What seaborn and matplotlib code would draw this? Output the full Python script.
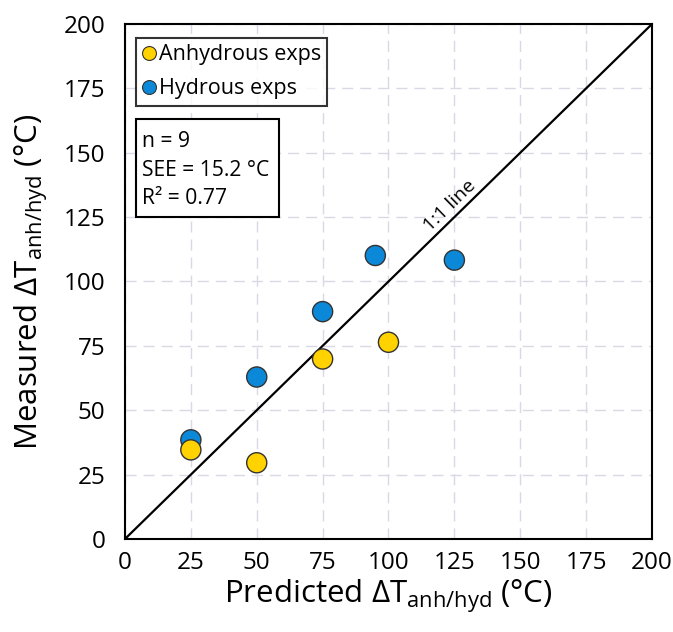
import matplotlib
matplotlib.use("Agg")
import matplotlib.pyplot as plt
import seaborn as sns
import pandas as pd
from matplotlib.lines import Line2D
from matplotlib.patches import Rectangle

# Data
anhydrous_pred = [25, 50, 75, 100]
anhydrous_meas = [34.6, 29.6, 69.9, 76.4]
hydrous_pred = [25, 50, 75, 95, 125]
hydrous_meas = [38.5, 62.9, 88.3, 110.1, 108.3]
ticks = [0, 25, 50, 75, 100, 125, 150, 175, 200]
stats_text = "n = 9\nSEE = 15.2 °C\nR² = 0.77"

sns.set_theme(style="white")
plt.rcParams['font.family'] = ['Open Sans', 'DejaVu Sans']
plt.rcParams['mathtext.default'] = 'regular'
plt.rcParams['text.color'] = 'black'
plt.rcParams['axes.labelcolor'] = 'black'

df = pd.DataFrame({
    "pred": hydrous_pred + anhydrous_pred,
    "meas": hydrous_meas + anhydrous_meas,
    "type": ["Hydrous exps"] * len(hydrous_pred) + ["Anhydrous exps"] * len(anhydrous_pred),
})

c_anh = "#FFD200"
c_hyd = "#0B89D8"

fig = plt.figure(figsize=(6.73, 6.32), dpi=100)
ax = fig.add_axes([0.1857, 0.1472, 0.7831, 0.8148])

ax.set_xlim(0, 200)
ax.set_ylim(0, 200)
ax.set_xticks(ticks)
ax.set_yticks(ticks)
ax.grid(True, color="#D9D9E6", linestyle=(0, (8, 5)), linewidth=1.0)
ax.set_axisbelow(True)

ax.plot([0, 200], [0, 200], color="black", linewidth=1.6, zorder=2)
ax.text(125.5, 127.0, "1:1 line", rotation=44.3, ha="center", va="bottom",
        fontsize=14, rotation_mode="anchor", color="black")

sns.scatterplot(data=df, x="pred", y="meas", hue="type",
                palette={"Hydrous exps": c_hyd, "Anhydrous exps": c_anh},
                s=210, edgecolor="#333333", linewidth=1.0, ax=ax, zorder=3, legend=False)

for sp in ax.spines.values():
    sp.set_color("black")
    sp.set_linewidth(1.5)

ax.tick_params(axis="both", labelsize=17.5, length=0, colors="black")
ax.tick_params(axis="x", pad=9)
ax.tick_params(axis="y", pad=14)
ax.set_xlabel(r"Predicted $\Delta T_{anh/hyd}$ (°C)", fontsize=22.5, labelpad=2)
ax.set_ylabel(r"Measured $\Delta T_{anh/hyd}$ (°C)", fontsize=22.5, labelpad=10)

handles = [
    Line2D([], [], marker="o", linestyle="", markersize=10, markerfacecolor=c_anh,
           markeredgecolor="#333333", markeredgewidth=0.8, label="Anhydrous exps"),
    Line2D([], [], marker="o", linestyle="", markersize=10, markerfacecolor=c_hyd,
           markeredgecolor="#333333", markeredgewidth=0.8, label="Hydrous exps"),
]
leg = ax.legend(handles=handles, loc="upper left", bbox_to_anchor=(0.021, 0.973),
                fontsize=15.5, frameon=True, fancybox=False, handletextpad=0.15,
                handlelength=0.6, borderpad=0.3, labelspacing=0.6, borderaxespad=0.0)
leg.get_frame().set_edgecolor("black")
leg.get_frame().set_linewidth(1.5)
for t in leg.get_texts():
    t.set_color("black")

ax.add_patch(Rectangle((0.021, 0.6245), 0.271, 0.1905, transform=ax.transAxes,
                       facecolor="white", edgecolor="black", linewidth=1.5, zorder=5))
ax.text(0.032, 0.716, stats_text, transform=ax.transAxes, fontsize=15.2,
        va="center", ha="left", linespacing=1.47, color="black", zorder=6)

fig.savefig("out.png", dpi=100)
